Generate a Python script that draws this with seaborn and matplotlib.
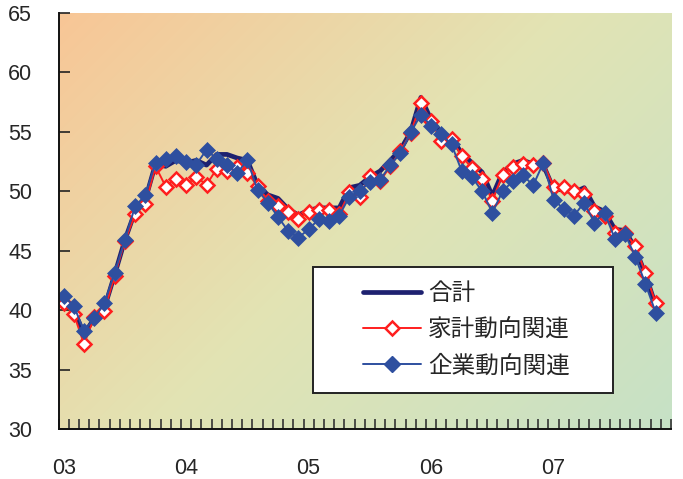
import numpy as np
import pandas as pd
import matplotlib
matplotlib.use("Agg")
import matplotlib.pyplot as plt
from matplotlib.lines import Line2D
from matplotlib.patches import Rectangle
import seaborn as sns

# Monthly diffusion index, Jan 2003 - Nov 2007
year_labels = ["03", "04", "05", "06", "07"]

total = [40.9, 40.0, 38.0, 39.3, 40.2, 43.0, 45.9, 48.3, 49.3, 52.3,
         52.1, 52.6, 52.4, 52.6, 52.2, 53.1, 53.1, 52.8, 52.6, 50.5,
         49.7, 49.4, 48.5, 48.0, 48.4, 48.6, 48.6, 48.6, 50.3, 50.5,
         51.2, 51.7, 52.6, 53.5, 55.0, 57.9, 56.0, 54.9, 54.5, 53.2,
         52.4, 51.6, 49.6, 51.6, 52.3, 52.6, 52.3, 52.2, 50.2, 50.1,
         49.9, 50.3, 48.7, 48.3, 46.8, 46.7, 45.2, 43.0, 40.4]

household = [40.6, 39.65, 37.15, 39.4, 39.95, 42.9, 45.8, 48.05, 48.9, 52.1,
             50.4, 51.05, 50.55, 51.2, 50.55, 51.9, 51.7, 52.0, 51.55, 50.45,
             49.2, 48.75, 48.25, 47.7, 48.25, 48.45, 48.45, 48.1, 49.9, 49.55,
             51.3, 50.85, 52.1, 53.4, 54.9, 57.45, 55.9, 54.2, 54.4, 52.95,
             51.95, 51.0, 49.2, 51.4, 52.0, 52.3, 52.25, 52.35, 50.4, 50.4,
             50.0, 49.75, 48.35, 47.95, 46.5, 46.5, 45.4, 43.15, 40.6]

corporate = [41.2, 40.35, 38.25, 39.3, 40.6, 43.15, 45.9, 48.75, 49.65, 52.4,
             52.75, 52.95, 52.5, 52.25, 53.5, 52.7, 52.2, 51.55, 52.6, 50.1,
             49.05, 47.85, 46.65, 46.1, 46.8, 47.65, 47.5, 47.95, 49.55, 50.0,
             50.8, 50.95, 52.2, 53.2, 54.95, 56.45, 55.5, 54.8, 53.95, 51.7,
             51.2, 50.0, 48.2, 50.0, 50.85, 51.35, 50.5, 52.4, 49.3, 48.5,
             47.95, 49.05, 47.35, 48.2, 46.0, 46.4, 44.5, 42.2, 39.8]

series_names = ["合計", "家計動向関連", "企業動向関連"]

month = np.arange(len(total))
df = pd.DataFrame({"month": month, series_names[0]: total,
                   series_names[1]: household, series_names[2]: corporate})

sns.set_style("white")
plt.rcParams["font.family"] = ["Liberation Sans", "Noto Sans CJK JP", "DejaVu Sans"]

fig = plt.figure(figsize=(6.83, 4.79), dpi=100)
ax = fig.add_axes([0.0857, 0.1044, 0.8967, 0.8685])

# diagonal peach -> pale yellow -> green background
W, H = 612, 416
u = np.linspace(0, 1, W)[None, :]
v = np.linspace(0, 1, H)[:, None]
t = (u * W + v * H) / (W + H)
stops_t = [0.0, 0.5, 1.0]
stops_c = np.array([[248, 198, 150], [226, 228, 180], [198, 225, 198]]) / 255.0
img = np.zeros((H, W, 3))
for ch in range(3):
    img[..., ch] = np.interp(t, stops_t, stops_c[:, ch])
ax.imshow(img, extent=[0, 1, 0, 1], transform=ax.transAxes, aspect="auto",
          zorder=0, origin="upper")

navy = "#1e2170"
red = "#ff1e1e"
blue = "#2e4f9f"

sns.lineplot(data=df, x="month", y=series_names[0], ax=ax, color=navy,
             linewidth=3.4, zorder=2, solid_capstyle="round")
sns.lineplot(data=df, x="month", y=series_names[1], ax=ax, color=red,
             linewidth=1.4, marker="D", markersize=7.5, markerfacecolor="white",
             markeredgecolor=red, markeredgewidth=1.8, zorder=3)
sns.lineplot(data=df, x="month", y=series_names[2], ax=ax, color=blue,
             linewidth=1.4, marker="D", markersize=8.5, markerfacecolor=blue,
             markeredgecolor=blue, markeredgewidth=0.5, zorder=4)

ax.set_xlim(-0.5, 59.5)
ax.set_ylim(30, 65)
ax.set_xlabel("")
ax.set_ylabel("")

ax.set_yticks(np.arange(30, 66, 5))
ax.tick_params(axis="y", direction="in", length=8, width=1.2, color="#222222",
               labelsize=15.5, pad=19, left=True)
ax.set_xticks(np.arange(0, 60, 12))
ax.set_xticklabels(year_labels)
ax.set_xticks(np.arange(-0.5, 60, 1), minor=True)
ax.tick_params(axis="x", which="major", length=0, labelsize=15.5, pad=21)
ax.tick_params(axis="x", which="minor", direction="in", length=7, width=1.2,
               color="#333333", bottom=True)

for side in ["top", "right"]:
    ax.spines[side].set_visible(False)
for side in ["left", "bottom"]:
    ax.spines[side].set_color("#111111")
    ax.spines[side].set_linewidth(1.4)
    ax.spines[side].set_zorder(5)

# legend box
ax.add_patch(Rectangle((0.4155, 0.0865), 0.4898, 0.3029, transform=ax.transAxes,
                       facecolor="white", edgecolor="#222222", linewidth=1.4,
                       zorder=6))
handles = [
    Line2D([], [], color=navy, linewidth=3.4),
    Line2D([], [], color=red, linewidth=1.4, marker="D", markersize=7.5,
           markerfacecolor="white", markeredgecolor=red, markeredgewidth=1.8),
    Line2D([], [], color=blue, linewidth=1.4, marker="D", markersize=8.5,
           markerfacecolor=blue, markeredgecolor=blue),
]
leg = ax.legend(handles, series_names, loc="center left",
                bbox_to_anchor=(0.497, 0.238), frameon=False,
                prop={"family": ["Noto Sans CJK JP", "DejaVu Sans"], "size": 17},
                handlelength=2.45, handletextpad=0.3, labelspacing=0.55,
                borderpad=0, borderaxespad=0)
leg.set_zorder(7)

fig.savefig("out.png", dpi=100)
